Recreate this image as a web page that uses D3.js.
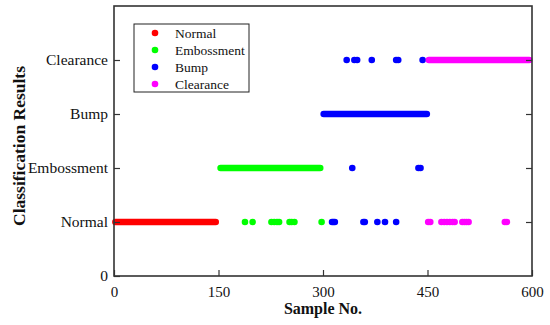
<!DOCTYPE html>
<html>
<head>
<meta charset="utf-8">
<script src="https://cdn.jsdelivr.net/npm/d3@7"></script>
<style>
  body { margin: 0; background: #fff; }
  svg { display: block; font-family: "Liberation Serif", "Times New Roman", serif; }
</style>
</head>
<body>
<div class="card"></div>
<script>
const w = 550;
const h = 325;
const margin = {top: 6, right: 18, bottom: 49, left: 114};

// classes, in row order (row 1 = Normal ... row 4 = Clearance)
const classNames = ["Normal", "Embossment", "Bump", "Clearance"];
const yTickLabels = ["0", "Normal", "Embossment", "Bump", "Clearance"];
const xTicks = [0, 150, 300, 450, 600];

// correctly classified runs (sample numbers, first and last)
const runFrom = [2, 153, 301, 452];
const runTo = [146, 296, 449, 596];

// misclassified samples
const embossAsNormal = [188, 199, 226, 230, 234, 237, 252, 255, 259, 298];
const bumpAsNormal = [313, 315, 317, 358, 360, 378, 389, 405];
const bumpAsEmboss = [342, 437, 440];
const bumpAsClearance = [334, 345, 349, 370, 405, 408, 443];
const clearanceAsNormal = [451, 454, 470, 474, 478, 482, 486, 489, 500, 503, 506, 509, 561, 564];

const colors = ["#ff0000", "#00ff00", "#0000ff", "#ff00ff"];
const r = 3.3;
const serif = "'Liberation Serif', 'Times New Roman', serif";

var svg = d3.select(".card")
  .append("svg")
  .attr("width", w)
  .attr("height", h);

var x = d3.scaleLinear().domain([0, 600]).range([margin.left, w - margin.right]);
var y = d3.scaleLinear().domain([0, 5]).range([h - margin.bottom, margin.top]);

// build marks from the arrays
var runs = classNames.map((c, i) => ({cls: i, row: i + 1, from: runFrom[i], to: runTo[i]}));
var points = [];
embossAsNormal.forEach(s => points.push({cls: 1, row: 1, s: s}));
bumpAsNormal.forEach(s => points.push({cls: 2, row: 1, s: s}));
bumpAsEmboss.forEach(s => points.push({cls: 2, row: 2, s: s}));
bumpAsClearance.forEach(s => points.push({cls: 2, row: 4, s: s}));
clearanceAsNormal.forEach(s => points.push({cls: 3, row: 1, s: s}));

// draw class by class so later classes sit on top
classNames.forEach((c, i) => {
  var g = svg.append("g").attr("class", "series-" + i);
  g.selectAll("line")
    .data(runs.filter(d => d.cls === i))
    .enter().append("line")
    .attr("x1", d => x(d.from))
    .attr("x2", d => x(d.to))
    .attr("y1", d => y(d.row))
    .attr("y2", d => y(d.row))
    .attr("stroke", colors[i])
    .attr("stroke-width", r * 2)
    .attr("stroke-linecap", "round");
  g.selectAll("circle")
    .data(points.filter(d => d.cls === i))
    .enter().append("circle")
    .attr("cx", d => x(d.s))
    .attr("cy", d => y(d.row))
    .attr("r", r)
    .attr("fill", colors[i]);
});

// axes, ticks pointing inward
var xAxis = d3.axisBottom(x).tickValues(xTicks).tickSizeInner(-6).tickSizeOuter(0).tickPadding(10);
var gx = svg.append("g")
  .attr("transform", "translate(0," + (h - margin.bottom) + ")")
  .call(xAxis);

var yAxis = d3.axisLeft(y).tickValues([0, 1, 2, 3, 4]).tickFormat(i => yTickLabels[i])
  .tickSizeInner(-6).tickSizeOuter(0).tickPadding(6);
var gy = svg.append("g")
  .attr("transform", "translate(" + margin.left + ",0)")
  .call(yAxis);

var yAxisR = d3.axisRight(y).tickValues([1, 2, 3, 4]).tickFormat("")
  .tickSizeInner(-6).tickSizeOuter(0);
var gyr = svg.append("g")
  .attr("transform", "translate(" + (w - margin.right) + ",0)")
  .call(yAxisR);

[gx, gy, gyr].forEach(g => {
  g.attr("font-family", serif).attr("font-size", 15);
  g.select(".domain").remove();
  g.selectAll(".tick line").attr("stroke", "#333").attr("stroke-width", 1.2);
  g.selectAll(".tick text").attr("fill", "#111");
});
gy.attr("font-size", 15.5);

// frame
svg.append("rect")
  .attr("x", margin.left)
  .attr("y", margin.top)
  .attr("width", w - margin.left - margin.right)
  .attr("height", h - margin.top - margin.bottom)
  .attr("fill", "none")
  .attr("stroke", "#333")
  .attr("stroke-width", 1.6);

// axis titles
svg.append("text")
  .attr("x", (margin.left + w - margin.right) / 2)
  .attr("y", 314)
  .attr("text-anchor", "middle")
  .attr("font-family", serif)
  .attr("font-weight", "bold")
  .attr("font-size", 16)
  .attr("fill", "#111")
  .text("Sample No.");

svg.append("text")
  .attr("transform", "translate(25,146) rotate(-90)")
  .attr("text-anchor", "middle")
  .attr("font-family", serif)
  .attr("font-weight", "bold")
  .attr("font-size", 17.5)
  .attr("fill", "#111")
  .text("Classification Results");

// legend
var legend = svg.append("g").attr("font-family", serif);
legend.append("rect")
  .attr("x", 134).attr("y", 24)
  .attr("width", 115).attr("height", 68)
  .attr("fill", "#fff")
  .attr("stroke", "#222")
  .attr("stroke-width", 1);
classNames.forEach((c, i) => {
  var ly = 33 + i * 17;
  legend.append("circle").attr("cx", 155).attr("cy", ly).attr("r", 3.3).attr("fill", colors[i]);
  legend.append("text").attr("x", 175).attr("y", ly).attr("dy", "0.35em")
    .attr("font-size", 13.5).attr("fill", "#111").text(c);
});
</script>
</body>
</html>
